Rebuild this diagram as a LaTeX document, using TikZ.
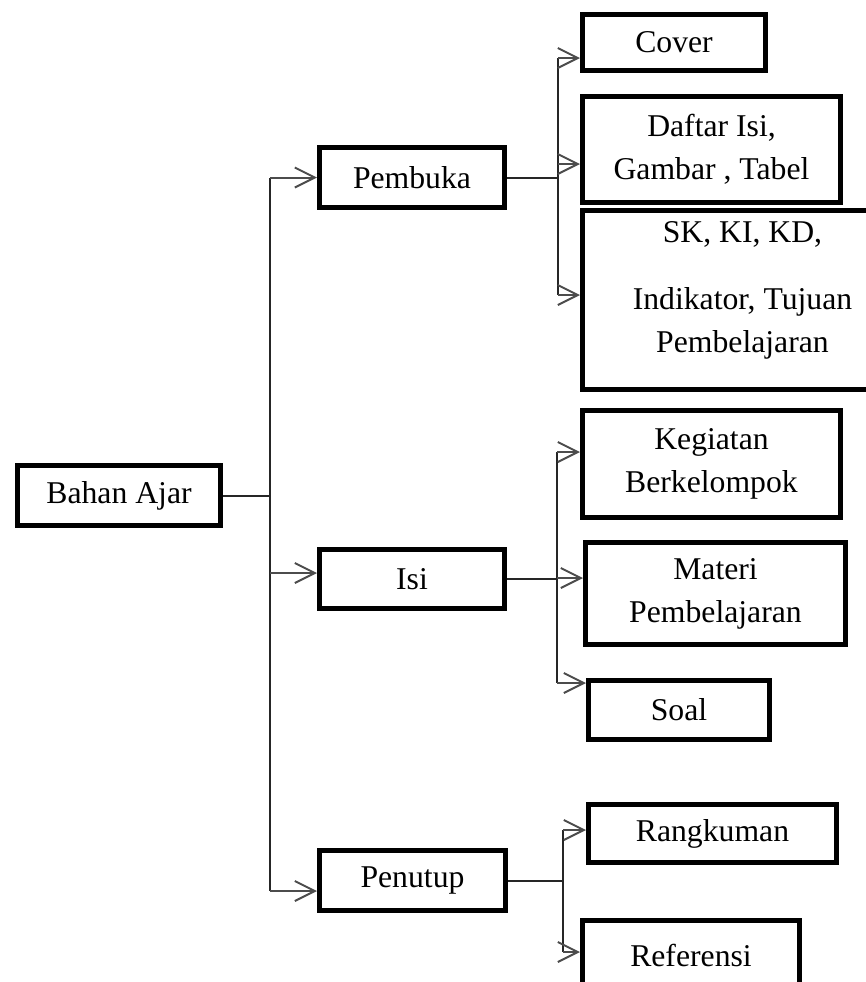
\documentclass[tikz,border=0pt]{standalone}
\usepackage{fontspec}
\setmainfont{Liberation Serif}
\usetikzlibrary{arrows.meta}

\begin{document}
\begin{tikzpicture}[x=0.5pt, y=-0.5pt,
  box/.style={draw, line width=2.5pt, align=center, inner sep=0pt,
    font=\fontsize{15.85}{21.5}\selectfont},
  link/.style={draw=black!85, line width=1pt},
  arr/.style={draw=black!70, line width=1pt, -{Straight Barb[length=10pt, width=10pt]}}]

\clip (0,0) rectangle (866,982);

% Root
\node[box, minimum width=101.5pt, minimum height=30pt] (bahan) at (119,495.5) {Bahan Ajar};

% Middle column
\node[box, minimum width=92.5pt, minimum height=30pt] (pembuka) at (412,177.5) {Pembuka};
\node[box, minimum width=92.5pt, minimum height=29.5pt] (isi) at (412,579) {Isi};
\node[box, minimum width=93pt, minimum height=30pt] (penutup) at (412.5,880.5) {Penutup};

% Pembuka parts
\node[box, minimum width=91.5pt, minimum height=28pt] (cover) at (674,42.5) {Cover};
\node[box, minimum width=129pt, minimum height=53pt] (daftar) at (711.5,149.5) {Daftar Isi,\\Gambar , Tabel};
\node[box, minimum width=160pt, minimum height=89.5pt, text depth=13.5pt] (sk) at (742.5,300) {SK, KI, KD,\\[12pt]Indikator, Tujuan\\Pembelajaran};

% Isi parts
\node[box, minimum width=129pt, minimum height=53.5pt] (kegiatan) at (711.5,464) {Kegiatan\\Berkelompok};
\node[box, minimum width=130pt, minimum height=51pt] (materi) at (715.5,593.5) {Materi\\Pembelajaran};
\node[box, minimum width=90.5pt, minimum height=29.5pt] (soal) at (679,710) {Soal};

% Penutup parts
\node[box, minimum width=124pt, minimum height=29pt] (rangkuman) at (712.5,833.5) {Rangkuman};
\node[box, minimum width=108.5pt, minimum height=35pt] (referensi) at (691,955) {Referensi};

% Bracket positions and arrow ends
\coordinate (trunk) at (270,0);
\coordinate (b1) at (558,0);
\coordinate (b2) at (557,0);
\coordinate (b3) at (563,0);
\coordinate (tPenutup) at ([yshift=-5.25pt]penutup.west);
\coordinate (tIsi) at ([yshift=3pt]isi.west);
\coordinate (tCover) at ([yshift=-7.75pt]cover.west);
\coordinate (tDaftar) at ([yshift=-7.25pt]daftar.west);
\coordinate (tSk) at ([yshift=2.5pt]sk.west);
\coordinate (tKegiatan) at ([yshift=6pt]kegiatan.west);
\coordinate (tMateri) at ([yshift=7.75pt]materi.west);
\coordinate (tSoal) at ([yshift=13.5pt]soal.west);
\coordinate (tRangkuman) at ([yshift=1.75pt]rangkuman.west);
\coordinate (tReferensi) at ([yshift=1.5pt]referensi.west);

% Root to middle column
\draw[link] (bahan.east) -- (bahan.east -| trunk);
\draw[link] (trunk |- pembuka.west) -- (trunk |- tPenutup);
\draw[arr] (trunk |- pembuka.west) -- (pembuka.west);
\draw[arr] (trunk |- tIsi) -- (tIsi);
\draw[arr] (trunk |- tPenutup) -- (tPenutup);

% Pembuka
\draw[link] (pembuka.east) -- (pembuka.east -| b1);
\draw[link] (b1 |- tCover) -- (b1 |- tSk);
\draw[arr] (b1 |- tCover) -- (tCover);
\draw[arr] (b1 |- tDaftar) -- (tDaftar);
\draw[arr] (b1 |- tSk) -- (tSk);

% Isi
\draw[link] (isi.east) -- (isi.east -| b2);
\draw[link] (b2 |- tKegiatan) -- (b2 |- tSoal);
\draw[arr] (b2 |- tKegiatan) -- (tKegiatan);
\draw[arr] (b2 |- tMateri) -- (tMateri);
\draw[arr] (b2 |- tSoal) -- (tSoal);

% Penutup
\draw[link] (penutup.east) -- (penutup.east -| b3);
\draw[link] (b3 |- tRangkuman) -- (b3 |- tReferensi);
\draw[arr] (b3 |- tRangkuman) -- (tRangkuman);
\draw[arr] (b3 |- tReferensi) -- (tReferensi);

\end{tikzpicture}
\end{document}
